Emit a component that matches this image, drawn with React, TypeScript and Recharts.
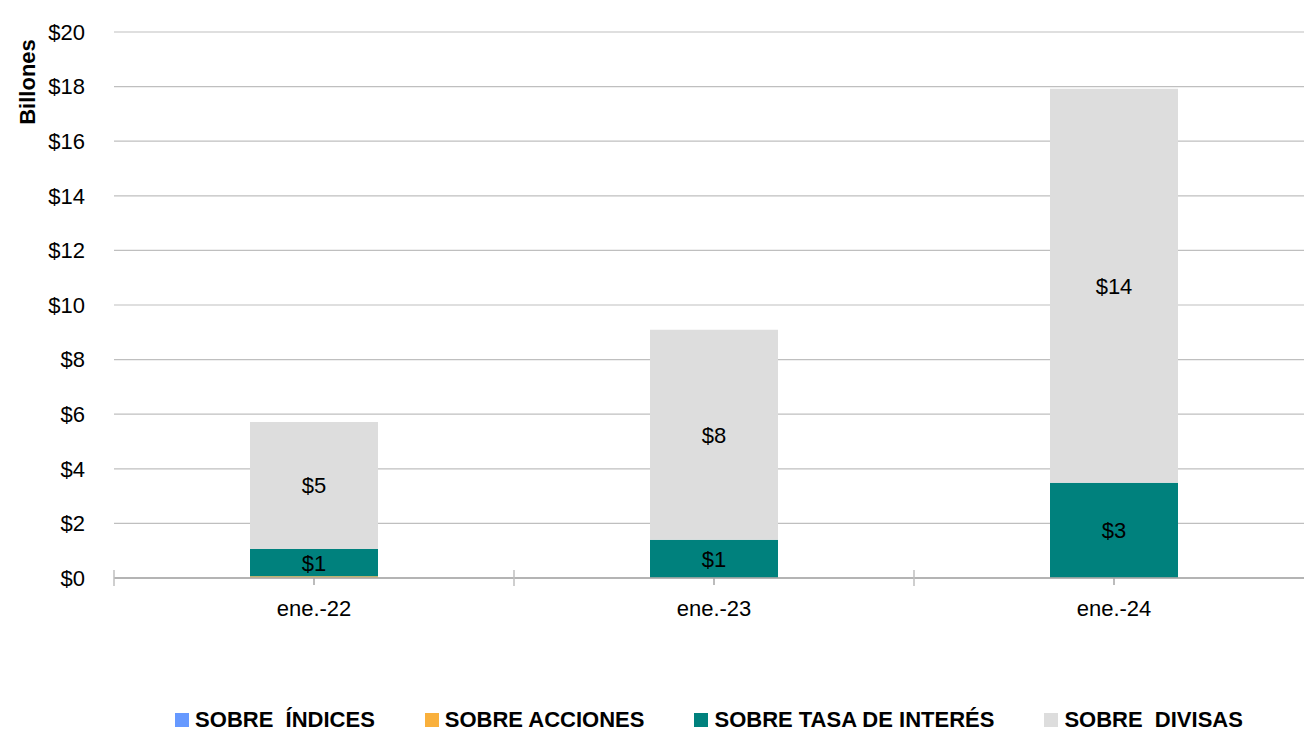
import { Bar, BarChart, CartesianGrid, LabelList, Legend, XAxis, YAxis } from 'recharts'

const categories = ['ene.-22', 'ene.-23', 'ene.-24']
const indices = [0.01, 0, 0]
const acciones = [0.05, 0.01, 0.01]
const tasaInteres = [1.0, 1.39, 3.48]
const divisas = [4.65, 7.69, 14.43]
const yTicks = [0, 2, 4, 6, 8, 10, 12, 14, 16, 18, 20]

const COLORS = {
  indices: '#6699FF',
  acciones: '#F9B03C',
  tasa: '#00817D',
  divisas: '#DDDDDD',
}

const FONT = '"Liberation Sans", Arial, sans-serif'
const TICK_SIZE = 7
const TICK_MARGIN = 15

const series = [
  { key: 'indices', name: 'SOBRE  ÍNDICES', color: COLORS.indices },
  { key: 'acciones', name: 'SOBRE ACCIONES', color: COLORS.acciones },
  { key: 'tasa', name: 'SOBRE TASA DE INTERÉS', color: COLORS.tasa },
  { key: 'divisas', name: 'SOBRE  DIVISAS', color: COLORS.divisas },
]

const data = categories.map((c, i) => ({
  label: c,
  indices: indices[i],
  acciones: acciones[i],
  tasa: tasaInteres[i],
  divisas: divisas[i],
}))

const money = (v: number) => `$${Math.round(v)}`

function LegendContent() {
  return (
    <div
      style={{
        display: 'flex',
        justifyContent: 'center',
        gap: 50,
        height: 28,
        alignItems: 'center',
        fontFamily: FONT,
        fontWeight: 'bold',
        fontSize: 22,
        color: '#000',
        whiteSpace: 'pre',
      }}
    >
      {series.map((s) => (
        <div key={s.key} style={{ display: 'flex', alignItems: 'center' }}>
          <span style={{ width: 14, height: 14, background: s.color, marginRight: 6, display: 'inline-block' }} />
          <span>{s.name}</span>
        </div>
      ))}
    </div>
  )
}

// category label plus the boundary tick at the left edge of each category
function CategoryTick(props: any) {
  const { x, y, payload, width } = props
  const half = width / (2 * categories.length)
  const axisY = y - TICK_SIZE - TICK_MARGIN
  return (
    <g>
      <line x1={x - half} x2={x - half} y1={axisY - 8} y2={axisY + 8} stroke="#BFBFBF" strokeWidth={1.5} />
      <text x={x} y={y} dy="0.71em" textAnchor="middle" fill="#000" fontSize={22} fontFamily={FONT}>
        {payload.value}
      </text>
    </g>
  )
}

function YLabel(props: any) {
  const vb = props.viewBox || { x: 0, y: 32 }
  return (
    <text
      x={27}
      y={vb.y + 50}
      transform={`rotate(-90, 27, ${vb.y + 50})`}
      textAnchor="middle"
      dominantBaseline="central"
      fontFamily={FONT}
      fontWeight="bold"
      fontSize={22}
      fill="#000"
    >
      Billones
    </text>
  )
}

export default function App() {
  return (
    <div style={{ position: 'absolute', left: 0, top: 0, width: 1304, height: 734, background: '#fff' }}>
      <BarChart
        width={1304}
        height={734}
        data={data}
        margin={{ top: 32, right: -10, left: 0, bottom: 0 }}
        barCategoryGap="34%"
      >
        <CartesianGrid vertical={false} stroke="#BFBFBF" strokeWidth={1.2} />
        <XAxis
          dataKey="label"
          height={128}
          stroke="#A6A6A6"
          strokeWidth={1.5}
          tickSize={TICK_SIZE}
          tickMargin={TICK_MARGIN}
          tick={<CategoryTick />}
        />
        <YAxis
          width={114}
          domain={[0, 20]}
          ticks={yTicks}
          tickFormatter={(v: number) => `$${v}`}
          axisLine={false}
          tickLine={false}
          tickSize={0}
          tickMargin={29}
          tick={{ fill: '#000', fontSize: 22, fontFamily: FONT }}
          label={<YLabel />}
        />
        <Legend
          verticalAlign="bottom"
          content={<LegendContent />}
          wrapperStyle={{ left: 114, width: 1190 }}
        />
        {series.map((s) => (
          <Bar
            key={s.key}
            dataKey={s.key}
            name={s.name}
            stackId="total"
            fill={s.color}
            isAnimationActive={false}
          >
            {(s.key === 'tasa' || s.key === 'divisas') && (
              <LabelList
                dataKey={s.key}
                position="center"
                formatter={(v: any) => money(Number(v))}
                fill="#000"
                fontSize={22}
                fontFamily={FONT}
              />
            )}
          </Bar>
        ))}
      </BarChart>
    </div>
  )
}
